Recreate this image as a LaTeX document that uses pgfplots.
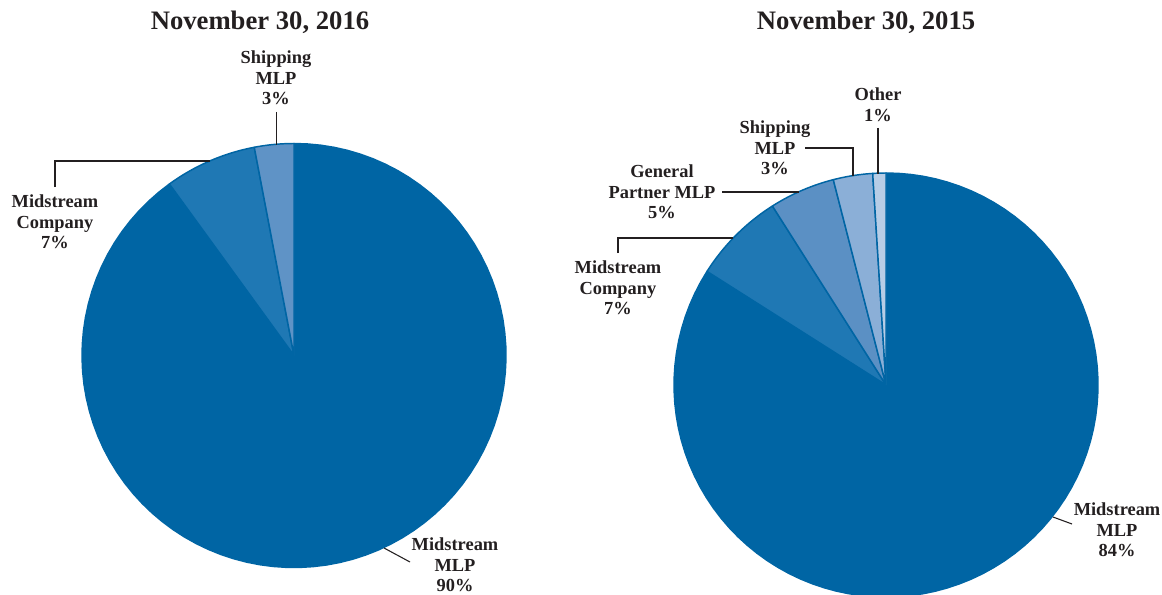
\documentclass[border=0pt]{standalone}
\usepackage{pgfplots}
\pgfplotsset{compat=1.18}
\usepackage{fontspec}
\setmainfont{Liberation Serif}
\definecolor{mlp}{HTML}{0065A4}
\definecolor{comp}{HTML}{1F78B4}
\definecolor{gp}{HTML}{5B90C4}
\definecolor{ship}{HTML}{8BAFD7}
\definecolor{shipL}{HTML}{5F93C6}
\definecolor{oth}{HTML}{B7CDE6}
\definecolor{txt}{HTML}{231F20}
\tikzset{
  slice/.style={draw=mlp, line width=1.1pt, line join=round},
  lbl/.style={align=center, text=txt, font=\bfseries\fontsize{13.8}{15.4}\selectfont},
  ttl/.style={text=txt, font=\bfseries\fontsize{20}{24}\selectfont},
  lead/.style={draw=txt, line width=0.8pt}}
\begin{document}
\begin{tikzpicture}
\begin{axis}[scale only axis, width=871.5pt, height=445.5pt,
  xmin=0, xmax=1162, ymin=0, ymax=594, hide axis, clip=false, samples=90]
% ---- November 30, 2016: Shipping MLP 3, Midstream Company 7, Midstream MLP 90 (counter-clockwise from 12 o'clock)
\addplot[slice, fill=mlp, domain={90+3.6*10}:{90+3.6*100}] ({294+212*cos(x)},{238.5+212*sin(x)}) -- (axis cs:294,238.5) -- cycle;
\addplot[slice, fill=comp, domain={90+3.6*3}:{90+3.6*10}] ({294+212*cos(x)},{238.5+212*sin(x)}) -- (axis cs:294,238.5) -- cycle;
\addplot[slice, fill=shipL, domain={90}:{90+3.6*3}] ({294+212*cos(x)},{238.5+212*sin(x)}) -- (axis cs:294,238.5) -- cycle;
% ---- November 30, 2015: Other 1, Shipping MLP 3, General Partner MLP 5, Midstream Company 7, Midstream MLP 84
\addplot[slice, fill=mlp, domain={90+3.6*16}:{90+3.6*100}] ({886+212*cos(x)},{209+212*sin(x)}) -- (axis cs:886,209) -- cycle;
\addplot[slice, fill=comp, domain={90+3.6*9}:{90+3.6*16}] ({886+212*cos(x)},{209+212*sin(x)}) -- (axis cs:886,209) -- cycle;
\addplot[slice, fill=gp, domain={90+3.6*4}:{90+3.6*9}] ({886+212*cos(x)},{209+212*sin(x)}) -- (axis cs:886,209) -- cycle;
\addplot[slice, fill=ship, domain={90+3.6*1}:{90+3.6*4}] ({886+212*cos(x)},{209+212*sin(x)}) -- (axis cs:886,209) -- cycle;
\addplot[slice, fill=oth, domain={90}:{90+3.6*1}] ({886+212*cos(x)},{209+212*sin(x)}) -- (axis cs:886,209) -- cycle;
% titles
\node[ttl] at (axis cs:260,572) {November 30, 2016};
\node[ttl] at (axis cs:866,572) {November 30, 2015};
% leaders left
\draw[lead] (axis cs:276.5,482) -- (axis cs:276.5,449.5);
\draw[lead] (axis cs:55,407) -- (axis cs:55,433) -- (axis cs:210,433);
\draw[lead] (axis cs:384,46) -- (axis cs:410,32);
% labels left
\node[lbl] at (axis cs:276,516) {Shipping\\MLP\\3\%};
\node[lbl] at (axis cs:55,372) {Midstream\\Company\\7\%};
\node[lbl] at (axis cs:455,29) {Midstream\\MLP\\90\%};
% leaders right
\draw[lead] (axis cs:878,466) -- (axis cs:878,420.5);
\draw[lead] (axis cs:805,446) -- (axis cs:853,446) -- (axis cs:853,418);
\draw[lead] (axis cs:722,402) -- (axis cs:799,402);
\draw[lead] (axis cs:618,341) -- (axis cs:618,356) -- (axis cs:733,356);
\draw[lead] (axis cs:1053,77) -- (axis cs:1072,70);
% labels right
\node[lbl] at (axis cs:878,489.5) {Other\\1\%};
\node[lbl] at (axis cs:775,446) {Shipping\\MLP\\3\%};
\node[lbl] at (axis cs:662,402) {General\\Partner MLP\\5\%};
\node[lbl] at (axis cs:618,306) {Midstream\\Company\\7\%};
\node[lbl] at (axis cs:1117,64) {Midstream\\MLP\\84\%};
\end{axis}
\pgfresetboundingbox
\path[use as bounding box] (current axis.south west) rectangle (current axis.north east);
\end{tikzpicture}
\end{document}
